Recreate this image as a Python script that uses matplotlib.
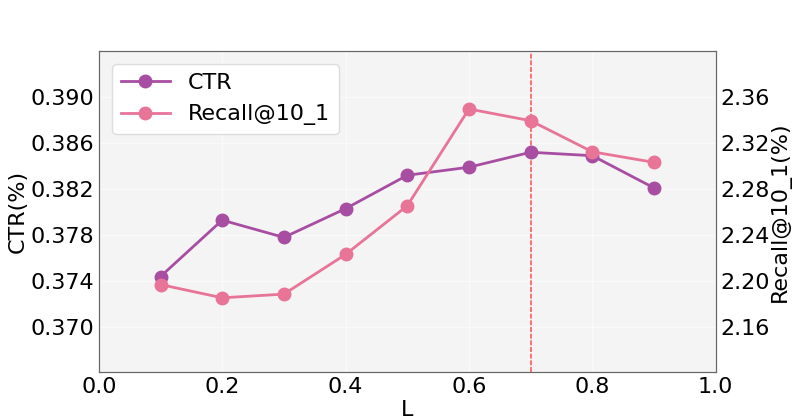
import matplotlib
matplotlib.use("Agg")
import matplotlib.pyplot as plt

L = [0.1, 0.2, 0.3, 0.4, 0.5, 0.6, 0.7, 0.8, 0.9]
ctr = [0.3744, 0.3793, 0.3778, 0.3803, 0.3832, 0.3839, 0.3852, 0.3849, 0.3821]
recall = [2.197, 2.1855, 2.1887, 2.2232, 2.2655, 2.3496, 2.3394, 2.3124, 2.3032]
ctr_ticks = [0.370, 0.374, 0.378, 0.382, 0.386, 0.390]
recall_ticks = [2.16, 2.20, 2.24, 2.28, 2.32, 2.36]
best_L = 0.7

c_ctr = "#a84ea2"
c_rec = "#e87498"

fig, ax1 = plt.subplots(figsize=(7.97, 4.18), dpi=100)
fig.subplots_adjust(left=0.124, right=0.898, top=0.878, bottom=0.110)

ax1.set_facecolor("#f4f4f4")
ax1.grid(True, color="white", linewidth=1, alpha=0.5)
ax1.set_axisbelow(True)

l1, = ax1.plot(L, ctr, "-o", color=c_ctr, lw=2, ms=9, label="CTR")
ax2 = ax1.twinx()
l2, = ax2.plot(L, recall, "-o", color=c_rec, lw=2, ms=9, label="Recall@10_1")
ax1.axvline(best_L, color="#ff5c5c", lw=1.2, dashes=(3, 1), zorder=1)

ax1.set_xlim(0, 1.0)
ax1.set_ylim(0.3661, 0.394)
ax2.set_ylim(2.121, 2.40)
ax1.set_yticks(ctr_ticks)
ax1.set_yticklabels(["%.3f" % v for v in ctr_ticks])
ax2.set_yticks(recall_ticks)
ax2.set_yticklabels(["%.2f" % v for v in recall_ticks])

ax1.tick_params(labelsize=16, length=0)
ax2.tick_params(labelsize=16, length=0)
ax1.set_xlabel("L", fontsize=16, labelpad=2)
ax1.set_ylabel("CTR(%)", fontsize=16, labelpad=2)
ax2.set_ylabel("Recall@10_1(%)", fontsize=16, labelpad=0)

for ax in (ax1, ax2):
    for s in ax.spines.values():
        s.set_color("#666666")

ax1.legend(handles=[l1, l2], loc="upper left", fontsize=16, framealpha=1,
           edgecolor="#dddddd", handlelength=2.2, borderaxespad=0.6)

fig.savefig("out.png", dpi=100)
